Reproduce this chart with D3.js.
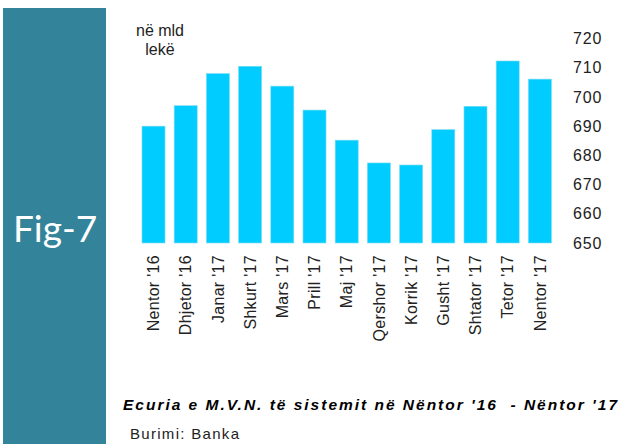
<!DOCTYPE html>
<meta charset="utf-8">
<script src="https://d3js.org/d3.v7.min.js"></script>
<style>
  body { margin: 0; background: #fff; }
  svg { display: block; }
  .axis path, .axis line { display: none; }
  .y.axis text { font-family: "Liberation Sans", Arial, sans-serif; font-size: 16px; fill: #222; letter-spacing: 0.8px; }
  .x.axis text { font-family: "Liberation Sans", Arial, sans-serif; font-size: 16px; fill: #222; letter-spacing: 0.3px; }
</style>
<body>
<script>

// months on the x axis
var months = ["Nentor '16", "Dhjetor '16", "Janar '17", "Shkurt '17", "Mars '17", "Prill '17",
  "Maj '17", "Qershor '17", "Korrik '17", "Gusht '17", "Shtator '17", "Tetor '17", "Nentor '17"];

// M.V.N. of the system, billion lek
var values = [690, 697, 708, 710.5, 703.7, 695.5, 685.2, 677.4, 676.7, 688.8, 696.8, 712.3, 706.1];

var yTicks = [650, 660, 670, 680, 690, 700, 710, 720];

var width = 622, height = 444;

var svg = d3.select("body").append("svg")
    .attr("width", width)
    .attr("height", height);

// teal side panel
svg.append("rect")
  .attr("x", 3)
  .attr("y", 8)
  .attr("width", 103)
  .attr("height", height - 8)
  .style("fill", "#33849a");

svg.append("text")
  .attr("x", 13)
  .attr("y", 242)
  .style("font-family", "Lato, 'Open Sans', sans-serif")
  .style("font-size", "37px")
  .style("fill", "#fff")
  .text("Fig-7");

// scales
var xScale = d3.scaleBand()
  .domain(months)
  .range([137.4, 556])
  .paddingInner(0.285)
  .paddingOuter(0.1425);

var yScale = d3.scaleLinear()
  .domain([650, 720])
  .range([243, 38.5]);

// bars
svg.selectAll(".bar")
  .data(values).enter().append("rect")
  .attr("class", "bar")
  .attr("x", function(d, i) { return xScale(months[i]); })
  .attr("y", function(d) { return yScale(d); })
  .attr("width", xScale.bandwidth())
  .attr("height", function(d) { return yScale(650) - yScale(d); })
  .style("fill", "#00ccff")
  .style("stroke", "#7fdcf4")
  .style("stroke-width", 0.6);

// y axis on the right
var yAxis = d3.axisRight(yScale)
  .tickValues(yTicks)
  .tickSize(0)
  .tickPadding(0);

svg.append("g")
  .attr("class", "y axis")
  .attr("transform", "translate(573,0)")
  .call(yAxis);

// x axis, labels rotated
var xAxis = d3.axisBottom(xScale)
  .tickSize(0);

svg.append("g")
  .attr("class", "x axis")
  .attr("transform", "translate(0,255)")
  .call(xAxis)
  .selectAll("text")
    .attr("transform", "rotate(-90)")
    .attr("x", 0)
    .attr("y", 0)
    .attr("dy", "0.35em")
    .style("text-anchor", "end");

// unit label
var unit = svg.append("text")
  .attr("text-anchor", "middle")
  .style("font-family", "'Liberation Sans', Arial, sans-serif")
  .style("font-size", "16px")
  .style("fill", "#222");
unit.append("tspan").attr("x", 160).attr("y", 36).text("në mld");
unit.append("tspan").attr("x", 160).attr("y", 55).text("lekë");

// title
svg.append("text")
  .attr("x", 123)
  .attr("y", 410)
  .attr("textLength", 494)
  .attr("lengthAdjust", "spacing")
  .style("white-space", "pre")
  .style("font-family", "'Liberation Sans', Arial, sans-serif")
  .style("font-size", "15.5px")
  .style("font-weight", "bold")
  .style("font-style", "italic")
  .style("fill", "#000")
  .text("Ecuria e M.V.N. të sistemit në Nëntor '16  - Nëntor '17");

svg.append("text")
  .attr("x", 130)
  .attr("y", 439)
  .style("font-family", "'Liberation Sans', Arial, sans-serif")
  .style("font-size", "15px")
  .style("letter-spacing", "1.3px")
  .style("fill", "#222")
  .text("Burimi: Banka");
</script>
</body>
